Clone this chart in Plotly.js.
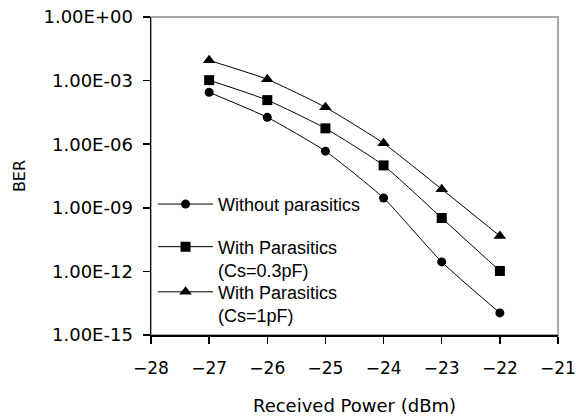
<!DOCTYPE html>
<html>
<head>
<meta charset="utf-8">
<script src="https://cdn.plot.ly/plotly-3.0.1.min.js"></script>
<style>html,body{margin:0;padding:0;background:#fff;}#chart{width:576px;height:420px;}</style>
</head>
<body>
<div id="chart"></div>
<script>
var power = [-27, -26, -25, -24, -23, -22];
var berWithout = [2.8e-4, 1.85e-5, 4.7e-7, 2.9e-9, 2.8e-12, 1.1e-14];
var berCs03 = [1.05e-3, 1.2e-4, 5.6e-6, 1.0e-7, 3.3e-10, 1.05e-12];
var berCs1 = [9e-3, 1.15e-3, 5.5e-5, 1.1e-6, 7.6e-9, 4.7e-11];
var names = ["Without parasitics", "With Parasitics<br>(Cs=0.3pF)", "With Parasitics<br>(Cs=1pF)"];
var yTickVals = [1, 1e-3, 1e-6, 1e-9, 1e-12, 1e-15];
var yTickText = ["1.00E+00", "1.00E-03", "1.00E-06", "1.00E-09", "1.00E-12", "1.00E-15"];

function tr(y, name, sym, size, leg) {
  return {
    x: power, y: y, name: name, type: 'scatter', mode: 'lines+markers',
    line: {color: '#000', width: 1, shape: 'spline', smoothing: 0.5},
    marker: {symbol: sym, size: size, color: '#000'},
    legend: leg
  };
}
var data = [
  tr(berWithout, names[0], 'circle', 9, 'legend'),
  tr(berCs03, names[1], 'square', 10, 'legend2'),
  tr(berCs1, names[2], 'triangle-up', 11, 'legend3')
];
function leg(y) {
  return {x: 0.005, xanchor: 'left', y: y, yanchor: 'top', valign: 'top',
    bgcolor: 'rgba(0,0,0,0)', borderwidth: 0, itemwidth: 55,
    font: {family: 'Liberation Sans, Arial, sans-serif', size: 18, color: '#000'}};
}
var layout = {
  width: 576, height: 420,
  margin: {l: 151, r: 18, t: 17, b: 85},
  paper_bgcolor: '#fff', plot_bgcolor: '#fff',
  font: {family: 'DejaVu Sans, sans-serif', size: 17, color: '#000'},
  xaxis: {
    range: [-28, -21], dtick: 1, tick0: -28, showgrid: false, zeroline: false,
    showline: true, linecolor: '#000', linewidth: 1.5,
    ticks: 'outside', ticklen: 7, tickwidth: 1.5, tickcolor: '#000',
    ticklabelstandoff: 10,
    tickfont: {family: 'DejaVu Sans, sans-serif', size: 17, color: '#000'},
    title: {text: 'Received Power (dBm)', font: {family: 'DejaVu Sans, sans-serif', size: 18, color: '#000'}, standoff: 22},
    automargin: false
  },
  yaxis: {
    type: 'log', range: [-15, 0], tickvals: yTickVals, ticktext: yTickText,
    showgrid: false, zeroline: false,
    showline: true, linecolor: '#000', linewidth: 1.5,
    ticks: 'outside', ticklen: 7, tickwidth: 1.5, tickcolor: '#000',
    ticklabelstandoff: 6,
    tickfont: {family: 'DejaVu Sans, sans-serif', size: 18, color: '#000'},
    title: {text: 'BER', font: {family: 'DejaVu Sans, sans-serif', size: 16, color: '#000'}, standoff: 14},
    automargin: false
  },
  shapes: [{type: 'rect', xref: 'paper', yref: 'paper', x0: 0, x1: 1, y0: 0, y1: 1,
    line: {color: '#a8a8a8', width: 2}, layer: 'below'}],
  legend: leg(0.469),
  legend2: leg(0.335),
  legend3: leg(0.193),
  showlegend: true
};
Plotly.newPlot('chart', data, layout, {displayModeBar: false, staticPlot: true});
</script>
</body>
</html>
